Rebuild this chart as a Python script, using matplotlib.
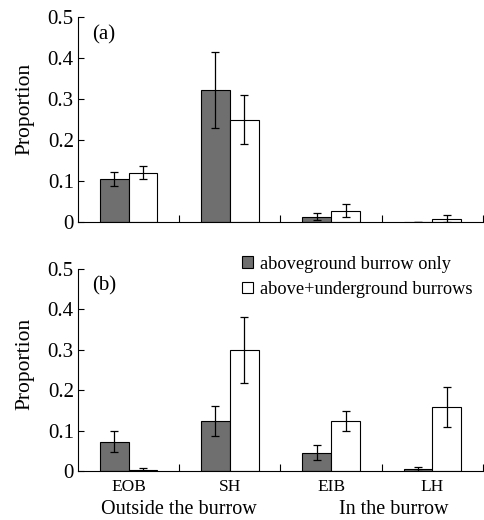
import numpy as np
import matplotlib
matplotlib.use("Agg")
import matplotlib.pyplot as plt

# -----------------------------
# DATA
# -----------------------------
categories = ["EOB", "SH", "EIB", "LH"]
groups = ["Outside the burrow", "In the burrow"]
series = ["aboveground burrow only", "above+underground burrows"]

# panel (a)
a_above = [0.105, 0.323, 0.013, 0.0]
a_above_err = [0.018, 0.093, 0.008, 0.0]
a_both = [0.120, 0.250, 0.028, 0.008]
a_both_err = [0.016, 0.060, 0.016, 0.009]

# panel (b)
b_above = [0.073, 0.124, 0.046, 0.005]
b_above_err = [0.025, 0.037, 0.018, 0.004]
b_both = [0.004, 0.300, 0.124, 0.158]
b_both_err = [0.004, 0.082, 0.024, 0.049]

yticks = [0, 0.1, 0.2, 0.3, 0.4, 0.5]
ytick_labels = ["0", "0.1", "0.2", "0.3", "0.4", "0.5"]

DARK = "#6f6f6f"
plt.rcParams["font.family"] = ["Liberation Serif", "DejaVu Serif"]

fig = plt.figure(figsize=(4.84, 5.2), dpi=100)
ax_a = fig.add_axes([0.161, 0.573, 0.837, 0.394])
ax_b = fig.add_axes([0.161, 0.094, 0.837, 0.389])

x = np.arange(len(categories))
w = 0.285


def draw_panel(ax, above, above_err, both, both_err, tag, label_y):
    ekw = dict(elinewidth=0.9, capthick=0.9)
    ax.bar(x - w / 2, above, w, color=DARK, edgecolor="black", linewidth=0.8,
           yerr=above_err, capsize=2.8, error_kw=ekw, label=series[0])
    ax.bar(x + w / 2, both, w, color="white", edgecolor="black", linewidth=0.8,
           yerr=both_err, capsize=2.8, error_kw=ekw, label=series[1])
    ax.set_xlim(-0.5, 3.5)
    ax.set_ylim(0, 0.5)
    ax.set_yticks(yticks)
    ax.set_yticklabels(ytick_labels, fontsize=15)
    ax.set_xticks([0.5, 1.5, 2.5, 3.5])
    ax.set_xticklabels([])
    ax.tick_params(axis="both", direction="in", length=4, width=0.8, pad=3)
    ax.tick_params(axis="x", length=5)
    ax.spines["top"].set_visible(False)
    ax.spines["right"].set_visible(False)
    ax.set_ylabel("Proportion", fontsize=15.5)
    ax.yaxis.set_label_coords(-0.107, label_y)
    ax.text(0.035, 0.915, tag, transform=ax.transAxes, fontsize=15, va="center")


draw_panel(ax_a, a_above, a_above_err, a_both, a_both_err, "(a)", 0.55)
draw_panel(ax_b, b_above, b_above_err, b_both, b_both_err, "(b)", 0.53)

xt = ax_b.get_xaxis_transform()
for i, c in enumerate(categories):
    ax_b.text(x[i], -0.04, c, ha="center", va="top", fontsize=12.5, transform=xt)

ax_b.text(0.5, -0.142, groups[0], ha="center", va="top", fontsize=14.5, transform=xt)
ax_b.text(2.62, -0.142, groups[1], ha="center", va="top", fontsize=14.5, transform=xt)

ax_b.legend(loc="upper right", bbox_to_anchor=(1.0, 1.12), frameon=False,
            fontsize=13.2, handlelength=0.6, handleheight=0.6, handletextpad=0.35,
            labelspacing=0.45, borderpad=0.1)

fig.savefig("out.png", dpi=100)
